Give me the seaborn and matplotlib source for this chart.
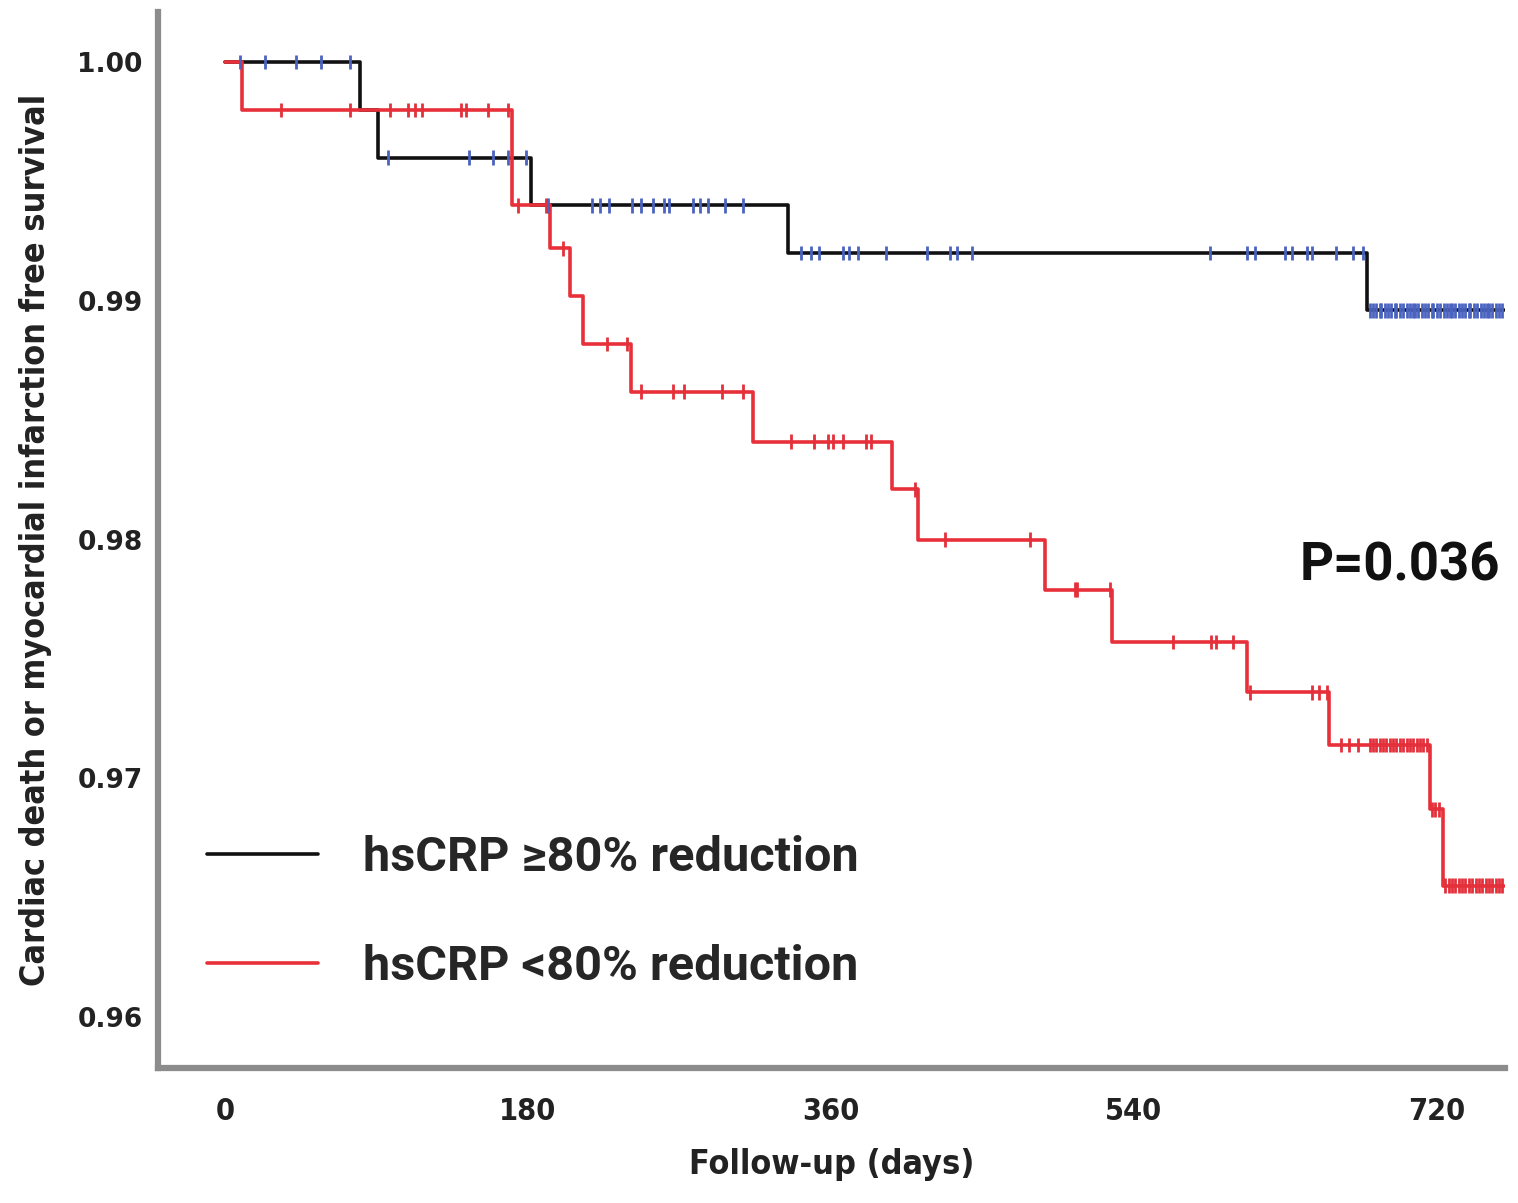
import numpy as np
import pandas as pd
import matplotlib
matplotlib.use("Agg")
import matplotlib.pyplot as plt
import seaborn as sns
from matplotlib.lines import Line2D

# ---------------- data ----------------
groups = ["hsCRP \u226580% reduction", "hsCRP <80% reduction"]

# step curve (event times, survival after the event), last point = end of follow-up
hi_times = [0, 80, 91, 182, 334.5, 678.5, 760]
hi_surv = [1.000, 0.998, 0.996, 0.994, 0.992, 0.9896, 0.9896]

lo_times = [0, 10, 170.5, 193, 205, 213, 241, 314, 396, 412, 487, 527, 607, 656, 716, 723.5, 760]
lo_surv = [1.000, 0.998, 0.994, 0.9922, 0.9902, 0.9882, 0.9862, 0.9841, 0.9821, 0.9800,
           0.9779, 0.9757, 0.9736, 0.9714, 0.9687, 0.9655, 0.9655]

# censored observations (days)
hi_censor = [9, 24, 42, 57, 74,
             97, 145, 159, 168, 179,
             192, 218, 223, 228, 242, 247, 254, 261, 264, 278, 282, 287, 297, 308,
             342, 348, 353, 367, 371, 376, 393, 417, 431, 435, 444,
             585, 607, 612, 630, 634, 643, 646, 660, 670, 676,
             680, 682, 684, 686, 687, 689, 691, 693, 695, 696, 698, 700, 702, 704, 706,
             707, 709, 711, 713, 715, 717, 718, 720, 722, 724, 726, 728, 729, 731, 733,
             735, 737, 739, 740, 742, 744, 746, 748, 750, 751, 753, 755, 757, 759]

lo_censor = [33, 74, 98, 109, 113, 117, 140, 143, 156, 168,
             174, 191, 201, 227, 239,
             247, 266, 273, 295, 308,
             336, 350, 358, 361, 367, 381, 384,
             410, 428, 478, 505, 506, 526,
             563, 586, 589, 599,
             609, 646, 650, 655,
             663, 668, 673, 680, 682, 684, 686, 688, 690, 692, 694, 696, 698, 700,
             702, 704, 706, 708, 710, 712, 714,
             717, 719, 721,
             725, 727, 729, 731, 733, 735, 737, 739, 741, 743, 745, 747, 749, 751,
             753, 755, 757, 759]

p_text = "P=0.036"
x_ticks = [0, 180, 360, 540, 720]
y_ticks = [0.96, 0.97, 0.98, 0.99, 1.00]

line_colors = ["#111111", "#e8303a"]
censor_colors = ["#4a62c0", "#e3303a"]

# ---------------- build tables ----------------
curves = pd.concat([
    pd.DataFrame({"day": hi_times, "surv": hi_surv, "group": groups[0]}),
    pd.DataFrame({"day": lo_times, "surv": lo_surv, "group": groups[1]}),
], ignore_index=True)


def level_at(times, surv, t):
    idx = np.searchsorted(np.asarray(times), np.asarray(t), side="right") - 1
    return np.asarray(surv)[idx]


cens = pd.concat([
    pd.DataFrame({"day": hi_censor, "surv": level_at(hi_times, hi_surv, hi_censor), "group": groups[0]}),
    pd.DataFrame({"day": lo_censor, "surv": level_at(lo_times, lo_surv, lo_censor), "group": groups[1]}),
], ignore_index=True)

# ---------------- plot ----------------
sns.set_style("white")
plt.rcParams["font.family"] = ["DejaVu Sans"]
narrow = dict(family=["DejaVu Sans"], stretch="condensed", fontweight="bold")

fig = plt.figure(figsize=(15.18, 12.03), dpi=100)
ax = fig.add_axes([158 / 1518, 1 - 1068 / 1203, (1505 - 158) / 1518, (1068 - 12) / 1203])

sns.lineplot(data=curves, x="day", y="surv", hue="group", palette=line_colors,
             estimator=None, sort=False, drawstyle="steps-post", linewidth=2.6,
             legend=False, ax=ax, zorder=2)
sns.scatterplot(data=cens, x="day", y="surv", hue="group", palette=censor_colors,
                marker="|", s=110, linewidth=2.0, legend=False, ax=ax, zorder=3)

ax.set_xlim(-39.8, 760.5)
ax.set_ylim(0.95786, 1.0021)
ax.set_xticks(x_ticks)
ax.set_yticks(y_ticks)
ax.set_xticklabels([str(v) for v in x_ticks], fontsize=22, color="#222222", **narrow)
ax.set_yticklabels([f"{v:.2f}" for v in y_ticks], fontweight="bold", fontsize=19, color="#222222")

for s in ["top", "right"]:
    ax.spines[s].set_visible(False)
for s in ["left", "bottom"]:
    ax.spines[s].set_color("#8c8c8c")
    ax.spines[s].set_linewidth(4.5)

ax.tick_params(axis="x", direction="out", length=13, width=2, color="#444444", pad=8)
ax.tick_params(axis="y", direction="out", length=9, width=2, color="#444444", pad=2)

ax.set_xlabel("Follow-up (days)", fontsize=24.5, color="#222222", labelpad=16, **narrow)
ax.set_ylabel("Cardiac death or myocardial infarction free survival",
              fontsize=24.5, color="#222222", labelpad=18, **narrow)

handles = [Line2D([], [], color=c, linewidth=2.6) for c in line_colors]
leg = ax.legend(handles, groups, loc="upper left", bbox_to_anchor=(207 / 1518, 1 - 835 / 1203),
                bbox_transform=fig.transFigure, frameon=False, borderpad=0, borderaxespad=0,
                handlelength=2.28, handletextpad=0.92, labelspacing=1.29,
                prop={"family": ["Roboto", "DejaVu Sans"], "weight": "bold",
                      "stretch": "normal", "size": 35})

ax.text(1500 / 1518, 1 - 566 / 1203, p_text, transform=fig.transFigure, ha="right", va="center",
        family=["Roboto", "DejaVu Sans"], fontweight="bold", fontstretch="normal",
        fontsize=38, color="#111111")

fig.savefig("out.png", dpi=100, facecolor="white")
